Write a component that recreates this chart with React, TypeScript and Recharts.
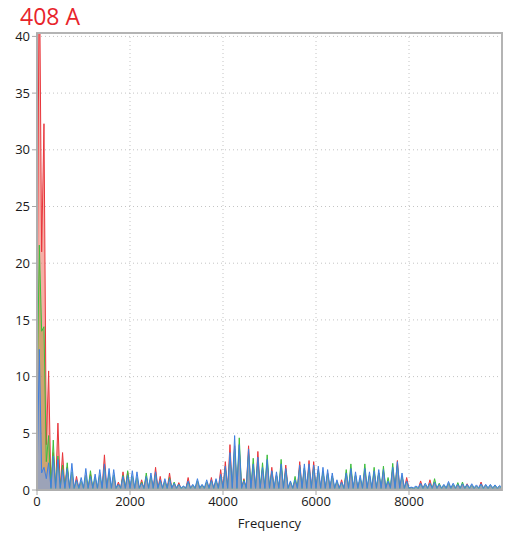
import {
  ComposedChart,
  Area,
  XAxis,
  YAxis,
  CartesianGrid,
  ReferenceArea,
} from "recharts";

// harmonic peaks sit at 50 + 100k Hz, k = 0..99
const peakFreqs = [
  50, 150, 250, 350, 450, 550, 650, 750, 850, 950,
  1050, 1150, 1250, 1350, 1450, 1550, 1650, 1750, 1850, 1950,
  2050, 2150, 2250, 2350, 2450, 2550, 2650, 2750, 2850, 2950,
  3050, 3150, 3250, 3350, 3450, 3550, 3650, 3750, 3850, 3950,
  4050, 4150, 4250, 4350, 4450, 4550, 4650, 4750, 4850, 4950,
  5050, 5150, 5250, 5350, 5450, 5550, 5650, 5750, 5850, 5950,
  6050, 6150, 6250, 6350, 6450, 6550, 6650, 6750, 6850, 6950,
  7050, 7150, 7250, 7350, 7450, 7550, 7650, 7750, 7850, 7950,
  8050, 8150, 8250, 8350, 8450, 8550, 8650, 8750, 8850, 8950,
  9050, 9150, 9250, 9350, 9450, 9550, 9650, 9750, 9850, 9950,
];

const redPeaks = [
  48, 32.3, 10.5, 3.3, 5.9, 3.3, 2.0, 1.4, 1.2, 0.7,
  1.3, 1.4, 1.0, 1.2, 3.1, 1.4, 1.2, 0.7, 1.6, 1.6,
  1.1, 1.0, 0.9, 1.1, 1.1, 2.0, 1.2, 0.8, 1.5, 0.5,
  0.65, 0.3, 1.1, 0.4, 0.7, 0.4, 0.7, 1.1, 0.8, 1.8,
  2.5, 4.0, 3.9, 3.5, 1.0, 3.9, 2.0, 3.4, 1.8, 2.3,
  2.0, 1.3, 2.1, 2.2, 0.6, 0.8, 2.5, 1.9, 2.6, 2.5,
  1.8, 1.6, 1.5, 1.2, 0.7, 0.9, 1.3, 1.7, 1.3, 1.0,
  1.7, 1.3, 1.5, 1.5, 1.6, 0.7, 1.8, 2.6, 1.2, 1.1,
  0.2, 0.25, 0.8, 0.45, 0.9, 0.6, 0.4, 0.4, 0.55, 0.45,
  0.4, 0.45, 0.55, 0.4, 0.35, 0.7, 0.4, 0.4, 0.35, 0.3,
];

const greenPeaks = [
  21.6, 14.4, 4.8, 4.4, 3.0, 2.2, 2.4, 1.6, 0.8, 0.8,
  1.2, 1.7, 1.1, 1.3, 2.0, 1.5, 1.3, 0.5, 1.3, 1.7,
  1.2, 1.1, 0.7, 1.5, 1.2, 1.4, 0.8, 0.7, 1.1, 0.7,
  0.5, 0.3, 0.7, 0.4, 0.8, 0.4, 0.7, 0.8, 0.8, 1.2,
  1.9, 2.9, 3.6, 4.6, 0.9, 3.2, 2.8, 2.5, 2.4, 3.1,
  1.6, 1.3, 2.7, 1.7, 0.7, 1.2, 2.0, 1.9, 2.0, 2.0,
  1.7, 1.6, 1.4, 1.2, 0.7, 0.6, 1.8, 2.3, 1.3, 1.0,
  2.3, 1.3, 2.0, 1.5, 2.1, 1.1, 2.35, 2.1, 1.2, 0.7,
  0.2, 0.25, 0.5, 0.45, 0.6, 1.0, 0.6, 0.4, 0.55, 0.45,
  0.65, 0.7, 0.4, 0.4, 0.35, 0.5, 0.4, 0.4, 0.35, 0.3,
];

const bluePeaks = [
  12.4, 2.0, 2.4, 3.0, 2.7, 1.8, 1.9, 2.35, 0.9, 1.1,
  1.9, 1.2, 1.4, 1.8, 2.3, 1.9, 1.8, 0.5, 1.2, 1.3,
  1.7, 1.6, 0.6, 1.2, 1.5, 1.6, 0.9, 1.0, 1.0, 0.6,
  0.5, 0.35, 0.8, 0.5, 1.0, 0.5, 0.9, 0.9, 1.0, 1.4,
  2.1, 3.3, 4.8, 4.0, 0.8, 3.6, 2.3, 2.9, 2.0, 2.7,
  1.7, 1.6, 2.3, 1.9, 0.8, 0.9, 2.2, 2.3, 2.3, 2.2,
  2.1, 2.0, 1.8, 1.5, 0.9, 0.7, 1.5, 1.9, 1.6, 1.3,
  1.9, 1.6, 1.7, 1.8, 1.8, 0.8, 2.0, 2.5, 1.5, 0.8,
  0.25, 0.35, 0.6, 0.6, 0.6, 0.7, 0.5, 0.5, 0.75, 0.6,
  0.5, 0.55, 0.5, 0.55, 0.45, 0.55, 0.5, 0.5, 0.45, 0.4,
];

// levels between harmonics: the first three (0, 100, 200 Hz) are read apart,
// the rest sit on a flat floor
const redLowValleys = [12, 21, 4];
const greenLowValleys = [8, 14, 2.5];
const blueLowValleys = [0.5, 1.5, 1];
const redFloor = 0.1;
const greenFloor = 0.1;
const blueFloor = 0.2;

const xTicks = [0, 2000, 4000, 6000, 8000];
const yTicks = [0, 5, 10, 15, 20, 25, 30, 35, 40];

const valley = (low: number[], floor: number, i: number) => (i < low.length ? low[i] : floor);

const rows: { f: number; red: number; green: number; blue: number }[] = [];
peakFreqs.forEach((f, i) => {
  rows.push({
    f: f - 50,
    red: valley(redLowValleys, redFloor, i),
    green: valley(greenLowValleys, greenFloor, i),
    blue: valley(blueLowValleys, blueFloor, i),
  });
  rows.push({ f, red: redPeaks[i], green: greenPeaks[i], blue: bluePeaks[i] });
});
rows.push({ f: 10000, red: redFloor, green: greenFloor, blue: blueFloor });

const font = "'Open Sans', 'Noto Sans', sans-serif";
const tickStyle = { fontSize: 13, fill: "#1a1a1a", fontFamily: font };

export default function App() {
  return (
    <div style={{ position: "absolute", left: 0, top: 0, width: 506, height: 533, background: "#fff" }}>
      <svg width={120} height={32} style={{ position: "absolute", left: 0, top: 0 }}>
        <text x={20} y={25} fontSize={23} fill="#e8242b" fontFamily={font}>
          408 A
        </text>
      </svg>
      <ComposedChart
        width={506}
        height={533}
        data={rows}
        margin={{ top: 33, right: 4, bottom: 0, left: 7 }}
      >
        <CartesianGrid stroke="#c4c4c4" strokeDasharray="1 3" />
        <XAxis
          dataKey="f"
          type="number"
          domain={[0, 10000]}
          ticks={xTicks}
          height={43}
          tickSize={5}
          stroke="#a8a8a8"
          tick={tickStyle}
          label={{ value: "Frequency", position: "insideBottom", offset: 5, style: { fontSize: 13, fill: "#1a1a1a", fontFamily: font } }}
        />
        <YAxis
          type="number"
          domain={[0, 40.3]}
          ticks={yTicks}
          allowDataOverflow
          width={30}
          tickSize={5}
          stroke="#a8a8a8"
          tick={tickStyle}
        />
        <Area type="linear" dataKey="red" stroke="#e8353b" strokeWidth={1} fill="#f07a6a" fillOpacity={0.6} dot={false} activeDot={false} isAnimationActive={false} />
        <Area type="linear" dataKey="green" stroke="#3cbf3c" strokeWidth={1} fill="#a89a3a" fillOpacity={0.5} dot={false} activeDot={false} isAnimationActive={false} />
        <Area type="linear" dataKey="blue" stroke="#3f7fe0" strokeWidth={1} fill="#7aa4e8" fillOpacity={0.6} dot={false} activeDot={false} isAnimationActive={false} />
        <ReferenceArea x1={0} x2={10000} y1={0} y2={40.3} fill="none" stroke="#b4b4b4" strokeWidth={2} ifOverflow="visible" />
      </ComposedChart>
    </div>
  );
}
